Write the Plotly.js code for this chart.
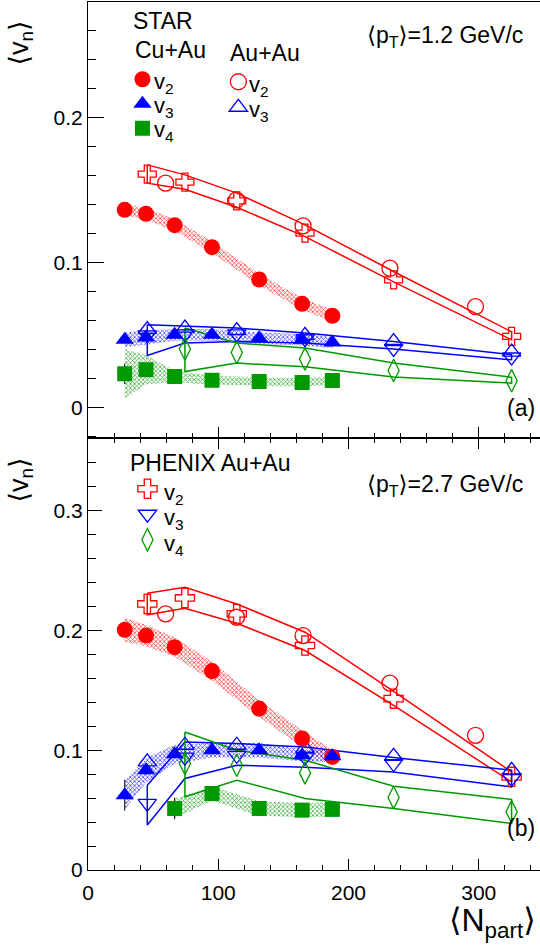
<!DOCTYPE html>
<html>
<head>
<meta charset="utf-8">
<script src="https://cdn.plot.ly/plotly-3.0.1.min.js"></script>
<style>html,body{margin:0;padding:0;background:#fff;}#chart{width:540px;height:948px;}</style>
</head>
<body>
<div id="chart"></div>
<script>
// ---------- DATA ----------
// STAR Cu+Au, panel (a) <pT>=1.2 GeV/c
const npCuAu = [28.2, 44.6, 66.5, 95.2, 131.4, 164.4, 187.6];
const cuauV2a = [0.1366, 0.1338, 0.1260, 0.1108, 0.0885, 0.0717, 0.0634];
const cuauV2aSys = [0.004, 0.004, 0.004, 0.004, 0.004, 0.004, 0.004];
const cuauV3a = [0.0469, 0.0485, 0.0503, 0.0503, 0.0480, 0.0469, 0.0450];
const cuauV3aSys = [0.005, 0.005, 0.004, 0.004, 0.004, 0.004, 0.004];
const cuauV4a = [0.0234, 0.0262, 0.0216, 0.0190, 0.0181, 0.0174, 0.0188];
const cuauV4aSys = [0.017, 0.010, 0.004, 0.003, 0.003, 0.003, 0.003];
const cuauV4aErr = [0.007, 0.003, 0.002, 0.002, 0.002, 0.002, 0.002];

// STAR Cu+Au, panel (b) <pT>=2.7 GeV/c
const cuauV2b = [0.2006, 0.1958, 0.1861, 0.1661, 0.1348, 0.1098, 0.0944];
const cuauV2bSys = [0.010, 0.009, 0.008, 0.008, 0.007, 0.007, 0.006];
const cuauV3b = [0.0625, 0.0833, 0.0967, 0.1000, 0.1000, 0.0958, 0.0950];
const cuauV3bSys = [0.012, 0.010, 0.008, 0.006, 0.006, 0.005, 0.005];
const cuauV3bErr = [0.013, 0.004, 0.003, 0.003, 0.003, 0.003, 0.003];
const npCuAuV4b = [66.5, 95.2, 131.4, 164.4, 187.6];
const cuauV4b = [0.0514, 0.0639, 0.0514, 0.0500, 0.0506];
const cuauV4bSys = [0.008, 0.006, 0.006, 0.006, 0.006];
const cuauV4bErr = [0.009, 0.003, 0.003, 0.003, 0.003];

// STAR Au+Au
const npStarAA = [59.6, 114.0, 165.1, 231.8, 297.5];
const starAAV2a = [0.155, 0.1434, 0.1255, 0.0963, 0.0698];
const starAAV2b = [0.2139, 0.2111, 0.1958, 0.1561, 0.1125];
const npPhenix = [45.5, 74.4, 114.2, 166.6, 234.6, 325.2];
const starAAV3a = [0.054, 0.055, 0.0533, 0.0499, 0.0457, 0.0384];
const starAAV3b = [0.0903, 0.1042, 0.1042, 0.1017, 0.0950, 0.0833];

// PHENIX Au+Au, panel (a)
const phxV2a = [0.1612, 0.1557, 0.1428, 0.1205, 0.0883, 0.0492];
const phxV2aHi = [0.1676, 0.1607, 0.1481, 0.1262, 0.0940, 0.0524];
const phxV2aLo = [0.1550, 0.1508, 0.1384, 0.1181, 0.0869, 0.0469];
const phxV3a = [0.0503, 0.0510, 0.0510, 0.0476, 0.0409, 0.0350];
const phxV3aHi = [0.0572, 0.0561, 0.0550, 0.0515, 0.0457, 0.0366];
const phxV3aLo = [0.0361, 0.0446, 0.0457, 0.0446, 0.0405, 0.0331];
const npPhenixV4 = [74.4, 114.2, 166.6, 234.6, 325.2];
const phxV4a = [0.0405, 0.0381, 0.0336, 0.0257, 0.0186];
const phxV4aHi = [0.0550, 0.0447, 0.0412, 0.0308, 0.0210];
const phxV4aLo = [0.0250, 0.0308, 0.0283, 0.0212, 0.0170];

// PHENIX Au+Au, panel (b)
const phxV2b = [0.2222, 0.2272, 0.2139, 0.1875, 0.1431, 0.0778];
const phxV2bHi = [0.2311, 0.2361, 0.2222, 0.1986, 0.1492, 0.0819];
const phxV2bLo = [0.2131, 0.2186, 0.2061, 0.1833, 0.1375, 0.0736];
const phxV3b = [0.0556, 0.0942, 0.0958, 0.0942, 0.0889, 0.0764];
const phxV3bHi = [0.0708, 0.1069, 0.1056, 0.1028, 0.0939, 0.0833];
const phxV3bLo = [0.0375, 0.0764, 0.0875, 0.0858, 0.0819, 0.0694];
const phxV4b = [0.0889, 0.0875, 0.0811, 0.0606, 0.0486];
const phxV4bHi = [0.1153, 0.1000, 0.0917, 0.0700, 0.0589];
const phxV4bLo = [0.0611, 0.0750, 0.0598, 0.0514, 0.0389];

// legend labels
const labelV2 = 'v<sub>2</sub>', labelV3 = 'v<sub>3</sub>', labelV4 = 'v<sub>4</sub>';

// ---------- STYLE ----------
const RED = '#ff0000', BLUE = '#0000ff', GREEN = '#009900';
const FONT = 'Liberation Sans, Arial, Helvetica, DejaVu Sans, sans-serif';

// helpers (layout only)
const L = 87.5, R = 540, T = 2, B = 870;
const pxX = x => (x - L) / (R - L);
const pxY = y => (B - y) / (B - T);

function hatchBand(xs, ys, sys, color, xa, ya) {
  const xx = xs.concat(xs.slice().reverse());
  const yy = ys.map((v, i) => v + sys[i]).concat(ys.map((v, i) => v - sys[i]).reverse());
  return {x: xx, y: yy, xaxis: xa, yaxis: ya, type: 'scatter', mode: 'lines', fill: 'toself',
    line: {width: 0, color: 'rgba(0,0,0,0)'}, fillcolor: 'rgba(0,0,0,0)',
    fillpattern: {shape: 'x', size: 3, solidity: 0.45, fgcolor: color, fgopacity: 0.75},
    showlegend: false, hoverinfo: 'skip'};
}
function outlineBand(xs, hi, lo, color, xa, ya) {
  const xx = xs.concat(xs.slice().reverse()).concat([xs[0]]);
  const yy = hi.concat(lo.slice().reverse()).concat([hi[0]]);
  return {x: xx, y: yy, xaxis: xa, yaxis: ya, type: 'scatter', mode: 'lines',
    line: {width: 1.5, color: color}, showlegend: false, hoverinfo: 'skip'};
}
function pts(xs, ys, symbol, color, size, xa, ya, opts) {
  const open = symbol.indexOf('open') >= 0;
  const t = {x: xs, y: ys, xaxis: xa, yaxis: ya, type: 'scatter', mode: 'markers',
    marker: {symbol: symbol, size: size, color: color, line: {width: open ? 1.3 : 0, color: color}},
    showlegend: false, name: ''};
  return Object.assign(t, opts || {});
}
function errs(arr) { return {type: 'data', array: arr, visible: true, color: '#000', thickness: 1, width: 0}; }

const traces = [
  // ---- panel (a) ----
  hatchBand(npCuAu, cuauV2a, cuauV2aSys, RED, 'x', 'y'),
  hatchBand(npCuAu, cuauV3a, cuauV3aSys, BLUE, 'x', 'y'),
  hatchBand(npCuAu, cuauV4a, cuauV4aSys, GREEN, 'x', 'y'),
  outlineBand(npPhenix, phxV2aHi, phxV2aLo, RED, 'x', 'y'),
  outlineBand(npPhenix, phxV3aHi, phxV3aLo, BLUE, 'x', 'y'),
  outlineBand(npPhenixV4, phxV4aHi, phxV4aLo, GREEN, 'x', 'y'),
  pts(npPhenix, phxV2a, 'cross-open', RED, 15, 'x', 'y'),
  pts(npPhenix, phxV3a, 'triangle-down-open', BLUE, 16, 'x', 'y'),
  pts(npPhenixV4, phxV4a, 'diamond-tall-open', GREEN, 16, 'x', 'y'),
  pts(npStarAA, starAAV2a, 'circle-open', RED, 16, 'x', 'y', {showlegend: true, legend: 'legend2'}),
  pts(npPhenix, starAAV3a, 'triangle-up-open', BLUE, 16, 'x', 'y', {showlegend: true, legend: 'legend2'}),
  pts(npCuAu, cuauV2a, 'circle', RED, 16, 'x', 'y', {showlegend: true, legend: 'legend'}),
  pts(npCuAu, cuauV3a, 'triangle-up', BLUE, 16, 'x', 'y', {showlegend: true, legend: 'legend'}),
  pts(npCuAu, cuauV4a, 'square', GREEN, 15, 'x', 'y', {showlegend: true, legend: 'legend', error_y: errs(cuauV4aErr)}),
  // ---- panel (b) ----
  hatchBand(npCuAu, cuauV2b, cuauV2bSys, RED, 'x2', 'y2'),
  hatchBand(npCuAu, cuauV3b, cuauV3bSys, BLUE, 'x2', 'y2'),
  hatchBand(npCuAuV4b, cuauV4b, cuauV4bSys, GREEN, 'x2', 'y2'),
  outlineBand(npPhenix, phxV2bHi, phxV2bLo, RED, 'x2', 'y2'),
  outlineBand(npPhenix, phxV3bHi, phxV3bLo, BLUE, 'x2', 'y2'),
  outlineBand(npPhenixV4, phxV4bHi, phxV4bLo, GREEN, 'x2', 'y2'),
  pts(npPhenix, phxV2b, 'cross-open', RED, 16, 'x2', 'y2', {showlegend: true, legend: 'legend3'}),
  pts(npPhenix, phxV3b, 'triangle-down-open', BLUE, 16, 'x2', 'y2', {showlegend: true, legend: 'legend3'}),
  pts(npPhenixV4, phxV4b, 'diamond-tall-open', GREEN, 16, 'x2', 'y2', {showlegend: true, legend: 'legend3'}),
  pts(npStarAA, starAAV2b, 'circle-open', RED, 16, 'x2', 'y2'),
  pts(npPhenix, starAAV3b, 'triangle-up-open', BLUE, 16, 'x2', 'y2'),
  pts(npCuAu, cuauV2b, 'circle', RED, 16, 'x2', 'y2'),
  pts(npCuAu, cuauV3b, 'triangle-up', BLUE, 16, 'x2', 'y2', {error_y: errs(cuauV3bErr)}),
  pts(npCuAuV4b, cuauV4b, 'square', GREEN, 15, 'x2', 'y2', {error_y: errs(cuauV4bErr)})
];

const TICKFONT = {family: FONT, size: 21, color: '#000'};
const xBase = {range: [0, 347], showgrid: false, zeroline: false, showline: true, linecolor: '#000', linewidth: 1,
  ticks: 'inside', ticklen: 11, tickcolor: '#000', tickwidth: 1, dtick: 100, tick0: 0,
  minor: {ticks: 'inside', ticklen: 5, dtick: 20, tickcolor: '#000', tickwidth: 1, showgrid: false},
  tickfont: TICKFONT};
const yBase = {showgrid: false, zeroline: false, showline: true, linecolor: '#000', linewidth: 1, mirror: true,
  ticks: 'inside', tickcolor: '#000', tickwidth: 1, dtick: 0.1, tick0: 0, tickfont: TICKFONT};

const legBase = {bgcolor: 'rgba(0,0,0,0)', borderwidth: 0, xanchor: 'left', yanchor: 'top',
  font: {family: FONT, size: 16.5, color: '#000'}, traceorder: 'normal', itemclick: false};

function ann(text, x, y, xanchor, size, extra) {
  return Object.assign({text: text, xref: 'paper', yref: 'paper', x: pxX(x), y: pxY(y), xanchor: xanchor, yanchor: 'middle',
    showarrow: false, font: {family: FONT, size: size, color: '#000'}}, extra || {});
}

const layout = {
  width: 540, height: 948, paper_bgcolor: '#fff', plot_bgcolor: 'rgba(0,0,0,0)',
  margin: {l: L, r: 0, t: T, b: 948 - B},
  showlegend: true,
  xaxis: Object.assign({}, xBase, {anchor: 'y', showticklabels: false, mirror: true}),
  yaxis: Object.assign({}, yBase, {domain: [0.498, 1], range: [-0.0207, 0.28], ticklen: 16, anchor: 'x',
    minor: {ticks: 'inside', ticklen: 8, dtick: 0.02, tickcolor: '#000', showgrid: false}}),
  xaxis2: Object.assign({}, xBase, {anchor: 'y2', showticklabels: true, mirror: 'ticks', ticklabelstandoff: 4}),
  yaxis2: Object.assign({}, yBase, {domain: [0, 0.498], range: [0, 0.361], ticklen: 14, anchor: 'x2',
    minor: {ticks: 'inside', ticklen: 8, dtick: 0.02, tickcolor: '#000', showgrid: false}}),
  legend: Object.assign({}, legBase, {x: pxX(122), y: pxY(62)}),
  legend2: Object.assign({}, legBase, {x: pxX(218), y: pxY(64), font: {family: FONT, size: 17.3, color: '#000'}}),
  legend3: Object.assign({}, legBase, {x: pxX(127), y: pxY(471), font: {family: FONT, size: 17.3, color: '#000'}}),
  annotations: [
    ann('STAR', 131, 21, 'left', 23),
    ann('Cu+Au', 133, 50, 'left', 23),
    ann('Au+Au', 228, 53, 'left', 23),
    ann('⟨p<sub>T</sub>⟩=1.2 GeV/c', 365, 36, 'left', 23),
    ann('(a)', 537, 408, 'right', 23),
    ann('PHENIX Au+Au', 128, 463, 'left', 23),
    ann('⟨p<sub>T</sub>⟩=2.7 GeV/c', 365, 486, 'left', 23),
    ann('(b)', 537, 828, 'right', 23),
    // legend labels
    ann(labelV2, 152, 83, 'left', 22), ann(labelV3, 152, 107, 'left', 22), ann(labelV4, 152, 131, 'left', 22),
    ann(labelV2, 247, 86, 'left', 22), ann(labelV3, 247, 111, 'left', 22),
    ann(labelV2, 162, 494, 'left', 22), ann(labelV3, 162, 519, 'left', 22), ann(labelV4, 162, 545, 'left', 22),
    // axis titles
    ann('⟨v<sub>n</sub>⟩', 20, 43, 'center', 27, {textangle: -90}),
    ann('⟨v<sub>n</sub>⟩', 20, 480, 'center', 27, {textangle: -90}),
    ann('⟨N<sub>part</sub>⟩', 538, 922, 'right', 32)
  ]
};

Plotly.newPlot('chart', traces, layout, {staticPlot: true, displayModeBar: false});
</script>
</body>
</html>
